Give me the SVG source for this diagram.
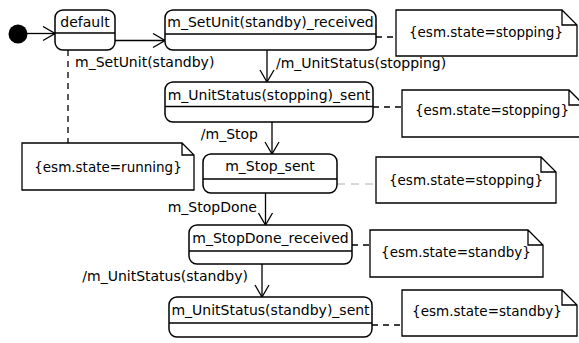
<svg xmlns="http://www.w3.org/2000/svg" width="579" height="343" viewBox="0 0 579 343">
<style>
.st{fill:#fff;stroke:#000;stroke-width:1.5}
.dv{stroke:#000;stroke-width:1.3}
.t{font-family:"DejaVu Sans",Verdana,sans-serif;font-size:14px;fill:#000}
.c{text-anchor:middle}
.nt{font-family:"DejaVu Sans",Verdana,sans-serif;font-size:13.5px;fill:#000;text-anchor:middle}
.note{fill:#fff;stroke:#000;stroke-width:1.3;stroke-linejoin:miter}
.ar{fill:none;stroke:#000;stroke-width:1.3}
.dash{fill:none;stroke:#000;stroke-width:1.3;stroke-dasharray:6 5}
.gdash{fill:none;stroke:#b0b0b0;stroke-width:1;stroke-dasharray:8 6}
</style>
<defs>
<marker id="open" viewBox="0 0 14 16" refX="13" refY="8" markerWidth="14" markerHeight="16" markerUnits="userSpaceOnUse" orient="auto">
<path d="M1,1 L13,8 L1,15" fill="none" stroke="#000" stroke-width="1.3"/>
</marker>
</defs>
<g id="connectors">
<line class="ar" x1="27" y1="33.5" x2="55" y2="33.5" marker-end="url(#open)"/>
<line class="ar" x1="115" y1="40.5" x2="165" y2="40.5" marker-end="url(#open)"/>
<line class="ar" x1="267" y1="50" x2="267" y2="82" marker-end="url(#open)"/>
<line class="ar" x1="272" y1="122" x2="272" y2="154" marker-end="url(#open)"/>
<line class="ar" x1="265.5" y1="193" x2="265.5" y2="225" marker-end="url(#open)"/>
<line class="ar" x1="262" y1="264" x2="262" y2="297" marker-end="url(#open)"/>
<line class="dash" x1="68" y1="50" x2="68" y2="143"/>
<line class="dash" x1="376" y1="37" x2="396" y2="37"/>
<line class="dash" x1="373" y1="107" x2="402" y2="107"/>
<line class="gdash" x1="337" y1="184" x2="376" y2="184"/>
<line class="dash" x1="352" y1="245" x2="370" y2="245"/>
<line class="dash" x1="372" y1="325" x2="402" y2="325"/>
<text class="t" x="75" y="67">m_SetUnit(standby)</text>
<text class="t" x="276" y="68">/m_UnitStatus(stopping)</text>
<text class="t" x="258" y="139" text-anchor="end">/m_Stop</text>
<text class="t" x="257" y="212" text-anchor="end">m_StopDone</text>
<text class="t" x="248" y="281" text-anchor="end">/m_UnitStatus(standby)</text>
</g>
<g id="initial"><circle cx="18" cy="34" r="9.5" fill="#000"/></g>
<g id="default">
<rect class="st" x="55" y="10" width="60" height="40" rx="8"/>
<line class="dv" x1="55" y1="33" x2="115" y2="33"/>
<text class="t c" x="85" y="27">default</text>
</g>
<g id="setunit_received">
<rect class="st" x="165" y="10" width="211" height="40" rx="8"/>
<line class="dv" x1="165" y1="34" x2="376" y2="34"/>
<text class="t c" x="270.5" y="27">m_SetUnit(standby)_received</text>
</g>
<g id="unitstatus_stopping_sent">
<rect class="st" x="165" y="82" width="208" height="40" rx="8"/>
<line class="dv" x1="165" y1="106.5" x2="373" y2="106.5"/>
<text class="t c" x="269" y="100">m_UnitStatus(stopping)_sent</text>
</g>
<g id="stop_sent">
<rect class="st" x="203" y="154" width="134" height="39" rx="8"/>
<line class="dv" x1="203" y1="179" x2="337" y2="179"/>
<text class="t c" x="270" y="171">m_Stop_sent</text>
</g>
<g id="stopdone_received">
<rect class="st" x="189" y="225" width="163" height="39" rx="8"/>
<line class="dv" x1="189" y1="251" x2="352" y2="251"/>
<text class="t c" x="270.5" y="243">m_StopDone_received</text>
</g>
<g id="unitstatus_standby_sent">
<rect class="st" x="169" y="297" width="203" height="40" rx="8"/>
<line class="dv" x1="169" y1="323" x2="372" y2="323"/>
<text class="t c" x="270.5" y="315">m_UnitStatus(standby)_sent</text>
</g>
<g id="note_running">
<path class="note" d="M22,143 H182 L194,155 V190 H22 Z M182,143 V155 H194"/>
<text class="nt" x="108" y="172">{esm.state=running}</text>
</g>
<g id="note1">
<path class="note" d="M396,10 H562 L577,25 V56 H396 Z M562,10 V25 H577"/>
<text class="nt" x="486" y="37">{esm.state=stopping}</text>
</g>
<g id="note2">
<path class="note" d="M402,90 H569 L584,105 V137 H402 Z M569,90 V105 H584"/>
<text class="nt" x="492" y="115">{esm.state=stopping}</text>
</g>
<g id="note3">
<path class="note" d="M376,157 H541 L556,172 V203 H376 Z M541,157 V172 H556"/>
<text class="nt" x="466" y="185">{esm.state=stopping}</text>
</g>
<g id="note4">
<path class="note" d="M370,230 H528 L543,245 V277 H370 Z M528,230 V245 H543"/>
<text class="nt" x="456" y="257">{esm.state=standby}</text>
</g>
<g id="note5">
<path class="note" d="M402,290 H562 L577,305 V336 H402 Z M562,290 V305 H577"/>
<text class="nt" x="487" y="316">{esm.state=standby}</text>
</g>
</svg>
